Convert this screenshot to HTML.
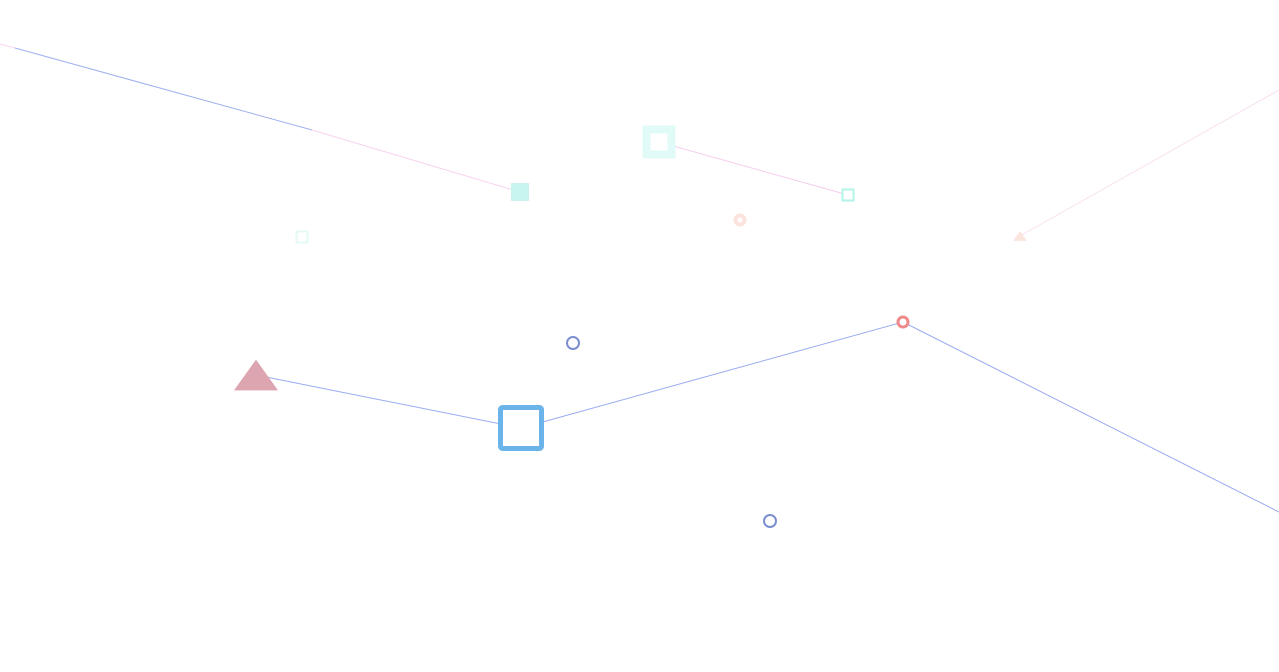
<!DOCTYPE html>
<html><head><meta charset="utf-8"><style>html,body{margin:0;background:#fff}svg{display:block}</style></head>
<body>
<svg id="chart" width="1279" height="672" viewBox="0 0 1279 672"></svg>
<script>
// data (x, y in chart units)
const seriesBlueX = [256, 521, 903, 1279];
const seriesBlueY = [375, 428, 322, 512];
const seriesTopX = [0, 15, 312, 520];
const seriesTopY = [44, 48, 130, 192];
const seriesMidX = [659, 848];
const seriesMidY = [142, 195];
const seriesFaintX = [1020, 1279];
const seriesFaintY = [236, 90];
const markerX = [520, 659, 848, 302, 740, 1020, 573, 903, 256, 521, 770];
const markerY = [192, 142, 195, 237, 220, 236, 343, 322, 375, 428, 521];
const markerKind = ['sqf','sq','sq','sq','ci','tri','ci','ci','tri','sq','ci'];
const markerSize = [18, 25, 11, 11, 13, 14, 14, 13, 44, 41, 14];
const markerColor = ['#c9f5ef','#e0fbf7','#b3f3e8','#e3faf7','#fbe3dd','#fbe6df','#7b8fd0','#f08a8a','#dca5b0','#6ab4ea','#7b8fd0'];
const markerStroke = [0, 8, 2, 2, 4, 0, 2, 3, 0, 5, 2];

const svg = document.getElementById('chart');
const NS = 'http://www.w3.org/2000/svg';
const xs = v => v * 1279 / 1279;
const ys = v => v * 672 / 672;

function seg(x1,y1,x2,y2,color,name){
  const l = document.createElementNS(NS,'line');
  l.setAttribute('x1',xs(x1));l.setAttribute('y1',ys(y1));
  l.setAttribute('x2',xs(x2));l.setAttribute('y2',ys(y2));
  l.setAttribute('stroke',color);l.setAttribute('stroke-width',1);
  
  
  svg.appendChild(l);
}
for(let i=0;i<seriesBlueX.length-1;i++) seg(seriesBlueX[i],seriesBlueY[i],seriesBlueX[i+1],seriesBlueY[i+1],'#9aaaf0','blue-line-segment');
const topColors=['#f9d6f2','#9fb0ee','#f7d3f0'];
for(let i=0;i<seriesTopX.length-1;i++) seg(seriesTopX[i],seriesTopY[i],seriesTopX[i+1],seriesTopY[i+1],topColors[i],'top-line-segment');
seg(seriesMidX[0],seriesMidY[0],seriesMidX[1],seriesMidY[1],'#f5cdee','mid-line-segment');
seg(seriesFaintX[0],seriesFaintY[0],seriesFaintX[1],seriesFaintY[1],'#f8e0f0','faint-line-segment');

for(let i=0;i<markerX.length;i++){
  const x=xs(markerX[i]), y=ys(markerY[i]), s=markerSize[i], c=markerColor[i], w=markerStroke[i];
  let el;
  if(markerKind[i]==='ci'){
    el=document.createElementNS(NS,'circle');
    el.setAttribute('cx',x);el.setAttribute('cy',y);el.setAttribute('r',s/2-w/2);
    el.setAttribute('fill','#fff');el.setAttribute('stroke',c);el.setAttribute('stroke-width',w);
  } else if(markerKind[i]==='tri'){
    el=document.createElementNS(NS,'polygon');
    const h=s*0.7;
    el.setAttribute('points',`${x},${y-h/2} ${x+s/2},${y+h/2} ${x-s/2},${y+h/2}`);
    el.setAttribute('fill',c);
  } else {
    el=document.createElementNS(NS,'rect');
    el.setAttribute('x',x-s/2);el.setAttribute('y',y-s/2);
    el.setAttribute('width',s);el.setAttribute('height',s);
    if(markerKind[i]==='sqf'){el.setAttribute('fill',c);}
    else{el.setAttribute('fill','#fff');el.setAttribute('stroke',c);el.setAttribute('stroke-width',w);el.setAttribute('rx',w===5?2:0);}
  }
  
  
  svg.appendChild(el);
}
</script>
</body></html>
